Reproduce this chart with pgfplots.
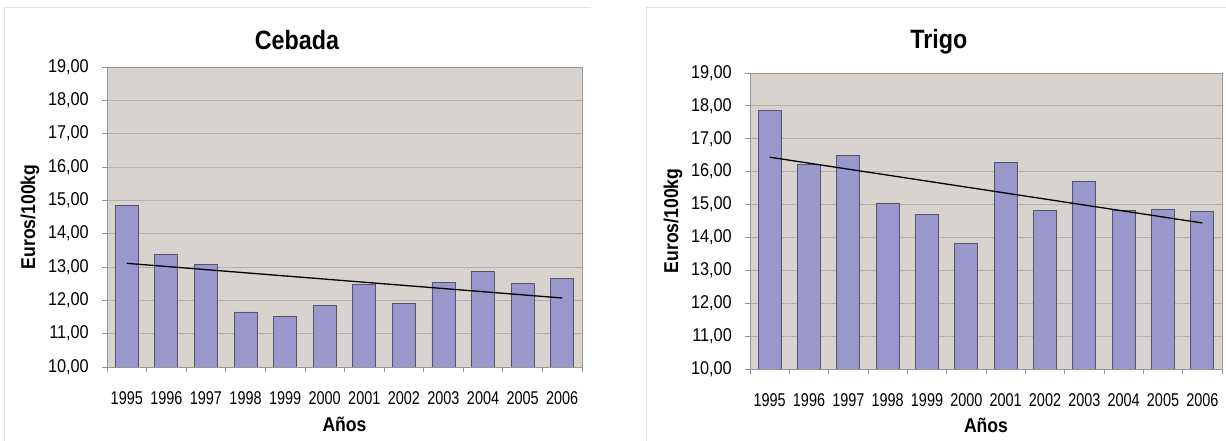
\documentclass[border=0pt]{standalone}
\usepackage{pgfplots}
\pgfplotsset{compat=1.18}
\usepackage{fontspec}
\setmainfont[FakeStretch=0.88]{Liberation Sans}
\newfontfamily\narrowfont[FakeStretch=0.78]{Liberation Sans}
\definecolor{bgc}{RGB}{216,211,206}
\definecolor{barc}{RGB}{153,151,204}
\definecolor{bard}{RGB}{85,85,105}
\definecolor{gridc}{RGB}{180,175,170}
\definecolor{axc}{RGB}{150,150,150}
\definecolor{panelc}{RGB}{225,225,225}

\pgfplotsset{
  panelaxis/.style={
    scale only axis, anchor=south west,
    xmin=-0.5, xmax=11.5, ymin=10, ymax=19,
    xtick={0,1,2,3,4,5,6,7,8,9,10,11},
    xticklabels={1995,1996,1997,1998,1999,2000,2001,2002,2003,2004,2005,2006},
    minor xtick={-0.5,0.5,...,11.5},
    ytick={10,11,...,19},
    tick pos=left,
    ymajorgrids, grid style={gridc, line width=0.8pt},
    axis background/.style={fill=bgc},
    axis line style={axc, line width=0.8pt},
    tick align=outside, major tick length=5pt, minor tick length=5pt,
    tick style={axc, line width=0.8pt},
    major x tick style={draw=none},
    xticklabel style={font=\narrowfont\fontsize{18.5}{19}\selectfont, anchor=center, yshift=-26pt},
    yticklabel style={font=\fontsize{18.5}{20}\selectfont, anchor=east, inner sep=0pt, xshift=-13pt},
    yticklabel={\pgfmathprintnumber[fixed,fixed zerofill,precision=2,use comma,assume math mode=true]{\tick}},
    xlabel={Años}, ylabel={Euros/100kg},
    label style={font=\bfseries\fontsize{20}{22}\selectfont},
    title style={font=\bfseries\fontsize{26.5}{28}\selectfont, anchor=base},
    xlabel style={at={(axis description cs:0.5,-0.19)}, anchor=center},
  },
  barplot/.style={ybar, bar width=23pt, bar shift=0pt, fill=barc, draw=bard, line width=0.8pt},
  trend/.style={black, line width=1.3pt, mark=none}
}

\begin{document}
\begin{tikzpicture}[x=1pt,y=1pt]
\useasboundingbox (0,0) rectangle (1226,441);
\draw[panelc, line width=0.8pt] (4,-2) -- (4,434) -- (591,434);
\draw[panelc, line width=0.8pt] (646,-2) -- (646,434) -- (1230,434);

\begin{axis}[panelaxis, at={(107pt,74pt)}, width=475pt, height=300pt,
  title={Cebada}, title style={at={(axis description cs:0.40,1.037)}},
  ylabel style={at={(axis description cs:-0.162,0.5)}, anchor=center}]
\addplot[barplot] coordinates {(0,14.85) (1,13.39) (2,13.07) (3,11.65) (4,11.51) (5,11.84) (6,12.47) (7,11.90) (8,12.54) (9,12.86) (10,12.51) (11,12.66)};
\addplot[trend] coordinates {(0,13.11) (11,12.07)};
\end{axis}

\begin{axis}[panelaxis, at={(750pt,72pt)}, width=472pt, height=296pt,
  title={Trigo}, title style={at={(axis description cs:0.40,1.064)}},
  ylabel style={at={(axis description cs:-0.163,0.5)}, anchor=center}]
\addplot[barplot] coordinates {(0,17.85) (1,16.23) (2,16.49) (3,15.05) (4,14.71) (5,13.81) (6,16.28) (7,14.81) (8,15.71) (9,14.83) (10,14.85) (11,14.78)};
\addplot[trend] coordinates {(0,16.44) (11,14.44)};
\end{axis}
\end{tikzpicture}
\end{document}
